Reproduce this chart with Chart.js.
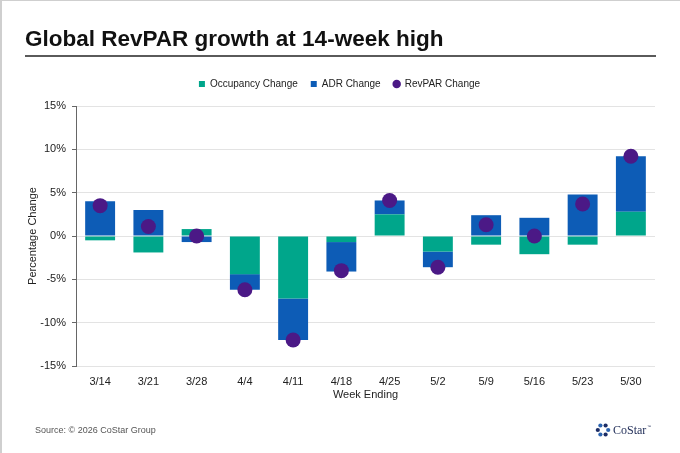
<!DOCTYPE html>
<html><head><meta charset="utf-8">
<script src="https://cdn.jsdelivr.net/npm/chart.js@4.4.1/dist/chart.umd.min.js"></script>
<style>html,body{margin:0;padding:0;background:#fff}#wrap{width:680px;height:453px;position:relative}</style>
</head><body><div id="wrap"><canvas id="c"></canvas></div>
<script>
const weeks = ['3/14','3/21','3/28','4/4','4/11','4/18','4/25','5/2','5/9','5/16','5/23','5/30'];
const occupancyChange = [-0.5, -1.9, 0.8, -4.4, -7.2, -0.7, 2.5, -1.8, -1.0, -2.1, -1.0, 2.8];
const adrChange = [4.0, 3.0, -0.7, -1.8, -4.8, -3.4, 1.6, -1.8, 2.4, 2.1, 4.8, 6.4];
const revparChange = [3.5, 1.1, 0.0, -6.2, -12.0, -4.0, 4.1, -3.6, 1.3, 0.0, 3.7, 9.2];
const yTickValues = [-15, -10, -5, 0, 5, 10, 15];

const GREEN = '#00A68B', BLUE = '#0D5CB6', PURPLE = '#4B1986';
Chart.defaults.font.family = "'Liberation Sans', Arial, sans-serif";
Chart.defaults.color = '#222';

const decor = {
  id: 'decor',
  afterInit(chart) {
    const lg = chart.legend;
    const f = lg.fit;
    lg.fit = function () { f.call(this); this.height += 7; };
    const d = lg.draw;
    lg.draw = function () { const c = this.ctx; c.save(); c.translate(2, 0); d.call(this); c.restore(); };
  },
  afterDraw(chart) {
    const ctx = chart.ctx;
    ctx.save();
    ctx.fillStyle = '#cfcfcf';
    ctx.fillRect(0, 0, 2, 453);
    ctx.fillRect(0, 0, 680, 1);
    ctx.fillStyle = '#111';
    ctx.font = "bold 22.5px 'Liberation Sans', Arial, sans-serif";
    ctx.textBaseline = 'alphabetic';
    ctx.textAlign = 'left';
    ctx.fillText('Global RevPAR growth at 14-week high', 25, 46);
    ctx.fillStyle = '#5a5a5a';
    ctx.fillRect(25, 55, 631, 2);
    ctx.fillStyle = '#555';
    ctx.font = "9px 'Liberation Sans', Arial, sans-serif";
    ctx.textBaseline = 'middle';
    ctx.fillText('Source: \u00A9 2026 CoStar Group', 35, 431);
    // logo
    const cx = 603, cy = 430;
    for (let i = 0; i < 6; i++) {
      const a = -Math.PI / 2 + i * Math.PI / 3 + Math.PI / 6;
      ctx.beginPath();
      ctx.fillStyle = i % 2 ? '#2c64b0' : '#1c2d66';
      ctx.arc(cx + 5.2 * Math.cos(a), cy + 5.2 * Math.sin(a), 2.1, 0, Math.PI * 2);
      ctx.fill();
    }
    ctx.fillStyle = '#1d2a55';
    ctx.font = "12px 'Liberation Serif', 'Times New Roman', serif";
    ctx.fillText('CoStar', 613, 431);
    ctx.font = "4px 'Liberation Sans', sans-serif";
    ctx.fillText('\u2122', 647, 427);
    ctx.restore();
  }
};

new Chart(document.getElementById('c'), {
  data: {
    labels: weeks,
    datasets: [
      { type: 'bar', label: 'Occupancy Change', data: occupancyChange, backgroundColor: GREEN, pointStyle: 'rect', stack: 'bars', categoryPercentage: 1, barPercentage: 0.62, order: 1 },
      { type: 'bar', label: 'ADR Change', data: adrChange, backgroundColor: BLUE, pointStyle: 'rect', stack: 'bars', categoryPercentage: 1, barPercentage: 0.62, order: 1 },
      { type: 'line', label: 'RevPAR Change', data: revparChange, showLine: false, pointRadius: 7.5, pointHoverRadius: 7.5, pointBackgroundColor: PURPLE, pointBorderWidth: 0, backgroundColor: PURPLE, borderColor: PURPLE, pointStyle: 'circle', stack: 'rev', order: 0 }
    ]
  },
  options: {
    responsive: true,
    maintainAspectRatio: false,
    animation: false,
    layout: { padding: { top: 66, left: 20, right: 25, bottom: 51 } },
    plugins: {
      tooltip: { enabled: false },
      legend: {
        position: 'top',
        labels: {
          usePointStyle: true, boxWidth: 6, boxHeight: 6, padding: 13,
          font: { size: 10 }, color: '#222',
          sort: (a, b) => a.datasetIndex - b.datasetIndex
        }
      }
    },
    scales: {
      x: {
        stacked: true,
        grid: { display: false, drawTicks: false },
        border: { display: false },
        ticks: { font: { size: 11 }, color: '#222', padding: 9, maxRotation: 0 },
        title: { display: true, text: 'Week Ending', font: { size: 11 }, color: '#222', padding: { top: 2, bottom: 0 } },
        afterFit: s => { s.height = 36; }
      },
      y: {
        stacked: true,
        min: -15, max: 15,
        afterBuildTicks: s => { s.ticks = yTickValues.map(v => ({ value: v })); },
        ticks: { font: { size: 11 }, color: '#222', padding: 6, callback: v => v + '%' },
        grid: { color: '#e3e3e3', tickColor: '#666', tickLength: 4, drawTicks: true },
        border: { display: true, color: '#666', width: 1 },
        title: { display: true, text: 'Percentage Change', font: { size: 11 }, color: '#222', padding: { top: 6, bottom: 0 } },
        afterFit: s => { s.width = 56; }
      }
    }
  },
  plugins: [decor]
});
</script></body></html>
